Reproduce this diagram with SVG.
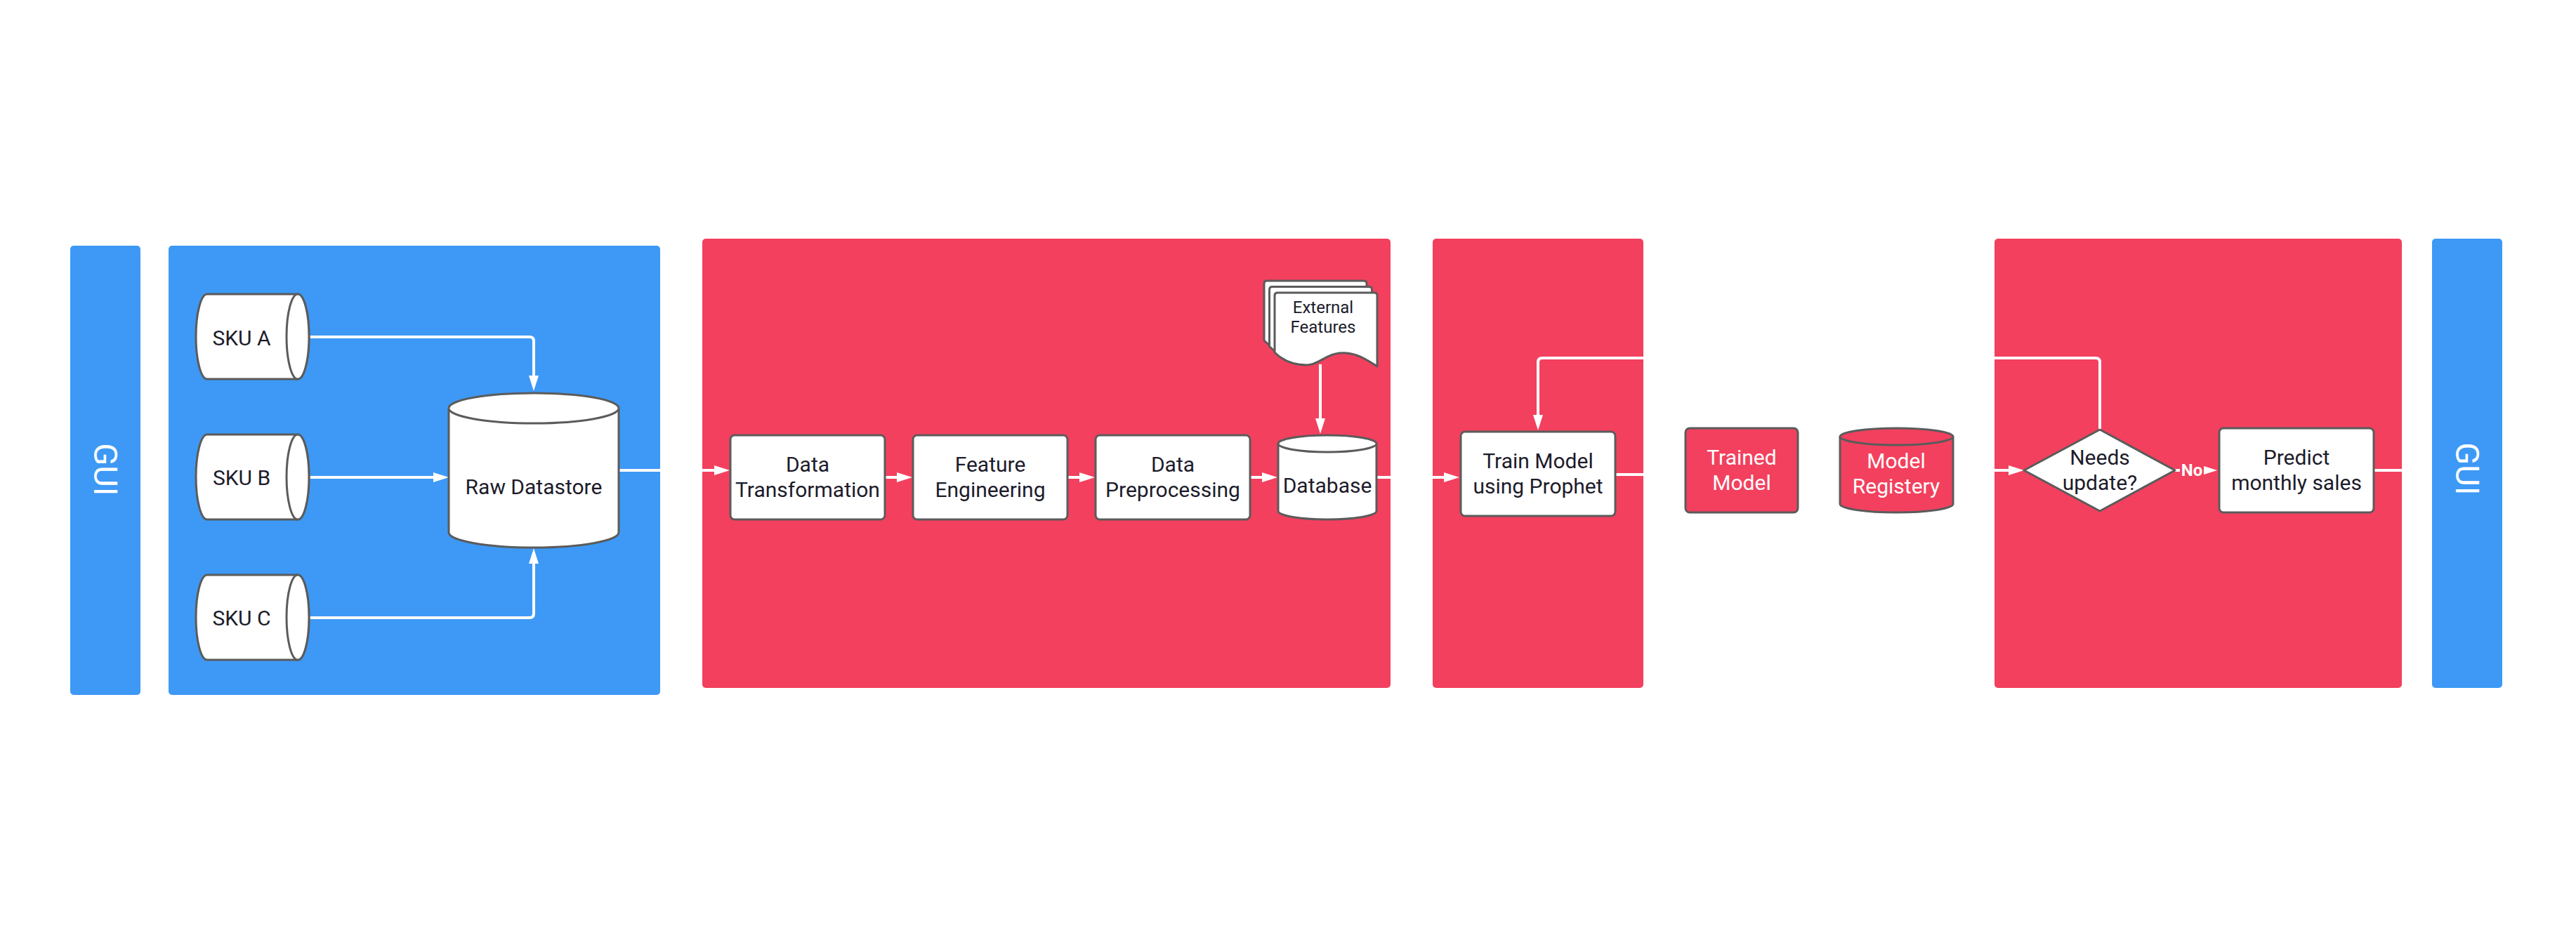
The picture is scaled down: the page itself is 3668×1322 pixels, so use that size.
<svg xmlns="http://www.w3.org/2000/svg" width="3668" height="1322" viewBox="0 0 3668 1322">
<style>
text{font-family:Roboto,"Liberation Sans",sans-serif;}
.lbl{font-size:30px;fill:#1d1c2b;text-anchor:middle;}
.wlbl{font-size:30px;fill:#ffffff;text-anchor:middle;}
.small{font-size:24px;fill:#1d1c2b;text-anchor:middle;}
.gui{font-size:47px;font-weight:400;fill:#ffffff;text-anchor:middle;}
.node{fill:#ffffff;stroke:#5b5b5b;stroke-width:3;stroke-linejoin:round;}
.rnode{fill:#f3405e;stroke:#5b5b5b;stroke-width:3;stroke-linejoin:round;}
.blue{fill:#3d99f5;}
.red{fill:#f3405e;}
.conn{fill:none;stroke:#ffffff;stroke-width:4;}
.arr{marker-end:url(#ah);}
</style>
<defs>
<marker id="ah" markerUnits="userSpaceOnUse" markerWidth="22" markerHeight="14" refX="12" refY="7" orient="auto">
<path d="M0,0 L22,7 L0,14 Z" fill="#ffffff"/>
</marker>
<path id="doc" d="M0,4 Q0,0 4,0 H142 Q146,0 146,4 V105 C125,91 110,84 92,86 C72,88 62,103 46,103 C28,103 12,97 0,85 Z"/>
</defs>
<rect width="3668" height="1322" fill="#ffffff"/>

<!-- panels -->
<g id="gui-left"><rect x="100" y="350" width="100" height="640" rx="5" class="blue"/>
<text class="gui" x="134" y="669" transform="rotate(90 134 669)">GUI</text></g>
<g id="panel-ingest"><rect x="240" y="350" width="700" height="640" rx="5" class="blue"/></g>
<g id="panel-prep"><rect x="1000" y="340" width="980" height="640" rx="5" class="red"/></g>
<g id="panel-train"><rect x="2040" y="340" width="300" height="640" rx="5" class="red"/></g>
<g id="panel-predict"><rect x="2840" y="340" width="580" height="640" rx="5" class="red"/></g>
<g id="gui-right"><rect x="3463" y="340" width="100" height="640" rx="5" class="blue"/>
<text class="gui" x="3497" y="668" transform="rotate(90 3497 668)">GUI</text></g>

<!-- connectors -->
<g id="connectors">
<path class="conn arr" d="M440,480 H754 Q760,480 760,486 V547"/>
<path class="conn arr" d="M440,680 H629"/>
<path class="conn arr" d="M440,880 H754 Q760,880 760,874 V791"/>
<path class="conn arr" d="M881,670 H1029"/>
<path class="conn arr" d="M1260,680 H1289"/>
<path class="conn arr" d="M1520,680 H1549"/>
<path class="conn arr" d="M1780,680 H1809"/>
<path class="conn arr" d="M1880,519 V608"/>
<path class="conn arr" d="M1960,680 H2068"/>
<path class="conn" d="M2300,676 H2399"/>
<path class="conn" d="M2559,668 H2621"/>
<path class="conn arr" d="M2780,670 H2872"/>
<path class="conn arr" d="M2990,612 V516 Q2990,510 2984,510 H2196 Q2190,510 2190,516 V603"/>
<path class="conn arr" d="M3097,670 H3147"/>
<path class="conn" d="M3380,670 H3463"/>
<rect x="3104" y="657" width="34" height="26" class="red"/>
<text x="3121" y="678" style="font-size:24px;font-weight:bold;fill:#ffffff;text-anchor:middle;">No</text>
</g>

<!-- nodes -->
<g id="sku-a">
<path class="node" d="M295,419 H424 A16,60.5 0 0 1 424,540 H295 A16,60.5 0 0 1 295,419 Z"/>
<ellipse class="node" cx="424" cy="479.5" rx="16" ry="60.5"/>
<text class="lbl" x="344" y="491.5">SKU A</text></g>
<g id="sku-b">
<path class="node" d="M295,619 H424 A16,60.5 0 0 1 424,740 H295 A16,60.5 0 0 1 295,619 Z"/>
<ellipse class="node" cx="424" cy="679.5" rx="16" ry="60.5"/>
<text class="lbl" x="344" y="691">SKU B</text></g>
<g id="sku-c">
<path class="node" d="M295,819 H424 A16,60.5 0 0 1 424,940 H295 A16,60.5 0 0 1 295,819 Z"/>
<ellipse class="node" cx="424" cy="879.5" rx="16" ry="60.5"/>
<text class="lbl" x="344" y="891">SKU C</text></g>

<g id="raw-datastore">
<path class="node" d="M639,581.5 A121,21.5 0 0 1 881,581.5 V758.5 A121,21.5 0 0 1 639,758.5 Z"/>
<path class="node" d="M639,581.5 A121,21.5 0 0 0 881,581.5"/>
<text class="lbl" x="760" y="704">Raw Datastore</text></g>

<g id="data-transformation"><rect class="node" x="1040" y="620" width="220" height="120" rx="6"/>
<text class="lbl" x="1150" y="672">Data</text><text class="lbl" x="1150" y="708">Transformation</text></g>
<g id="feature-engineering"><rect class="node" x="1300" y="620" width="220" height="120" rx="6"/>
<text class="lbl" x="1410" y="672">Feature</text><text class="lbl" x="1410" y="708">Engineering</text></g>
<g id="data-preprocessing"><rect class="node" x="1560" y="620" width="220" height="120" rx="6"/>
<text class="lbl" x="1670" y="672">Data</text><text class="lbl" x="1670" y="708">Preprocessing</text></g>

<g id="external-features">
<use href="#doc" class="node" transform="translate(1800,400)"/>
<use href="#doc" class="node" transform="translate(1807.5,408.5)"/>
<use href="#doc" class="node" transform="translate(1815,417)"/>
<text class="small" x="1884" y="446">External</text><text class="small" x="1884" y="474">Features</text></g>

<g id="database">
<path class="node" d="M1820,632 A70,12 0 0 1 1960,632 V728 A70,12 0 0 1 1820,728 Z"/>
<path class="node" d="M1820,632 A70,12 0 0 0 1960,632"/>
<text class="lbl" x="1890" y="702">Database</text></g>

<g id="train-model"><rect class="node" x="2080" y="615" width="220" height="120" rx="6"/>
<text class="lbl" x="2190" y="667">Train Model</text><text class="lbl" x="2190" y="703">using Prophet</text></g>

<g id="trained-model"><rect class="rnode" x="2400" y="610" width="160" height="120" rx="6"/>
<text class="wlbl" x="2480" y="662">Trained</text><text class="wlbl" x="2480" y="698">Model</text></g>

<g id="model-registry">
<path class="rnode" d="M2620,622 A80.5,12 0 0 1 2781,622 V718 A80.5,12 0 0 1 2620,718 Z"/>
<path class="rnode" d="M2620,622 A80.5,12 0 0 0 2781,622"/>
<text class="wlbl" x="2700" y="667">Model</text><text class="wlbl" x="2700" y="703">Registery</text></g>

<g id="needs-update"><path class="node" d="M2882,670 L2990,612 L3097,670 L2990,728 Z"/>
<text class="lbl" x="2990" y="662">Needs</text><text class="lbl" x="2990" y="698">update?</text></g>

<g id="predict"><rect class="node" x="3160" y="610" width="220" height="120" rx="6"/>
<text class="lbl" x="3270" y="662">Predict</text><text class="lbl" x="3270" y="698">monthly sales</text></g>
</svg>
